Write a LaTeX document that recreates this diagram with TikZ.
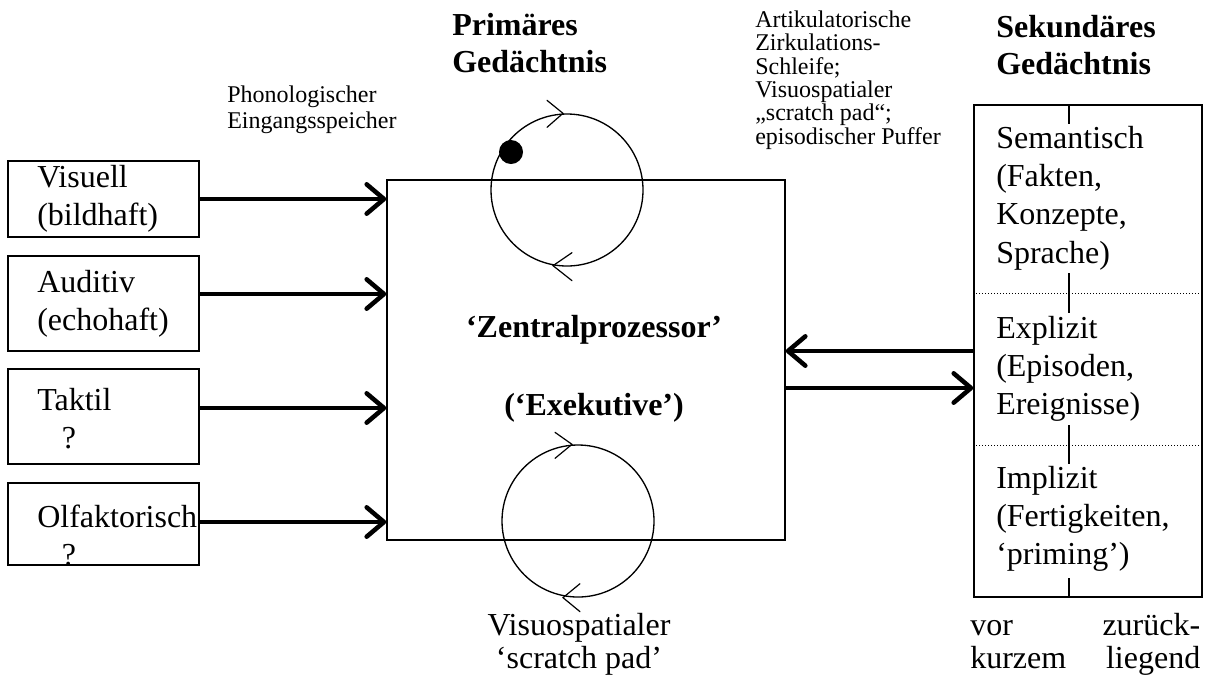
\documentclass[tikz,border=0pt]{standalone}
\usepackage{fontspec}
\setmainfont{Liberation Serif}
\usetikzlibrary{arrows.meta,fit,calc}

% stacked lines whose baseline is the first line's baseline
\newcommand\lns[2][l]{\begin{tabular}[t]{@{}#1@{}}#2\end{tabular}}

\tikzset{
  frame/.style={draw, line width=1.1pt, inner sep=0pt},
  big/.style={font=\fontsize{24}{28.8}\selectfont},
  bigbold/.style={font=\fontsize{24}{28}\selectfont\bfseries},
  small/.style={font=\fontsize{18}{16.9}\selectfont},
  foot/.style={font=\fontsize{24}{24.75}\selectfont},
  txt/.style={inner sep=0pt, anchor=base west},
  flow/.style={line width=3.4pt,
    -{Straight Barb[length=13pt,width=22pt,line cap=round,line join=round]}},
  loopline/.style={line width=1pt},
  chev/.style={line width=0.9pt, line cap=round},
  sep/.style={line width=0.75pt, dash pattern=on 0.75pt off 1.5pt},
  tick/.style={line width=0.8pt},
}

\begin{document}
\begin{tikzpicture}[x=0.75pt, y=-0.75pt]
\useasboundingbox (0,0) rectangle (1209,676);

% sensory stores
\node[frame, fit={(8,161) (199,237)}] (vis) {};
\node[frame, fit={(8,256) (199,351)}] (aud) {};
\node[frame, fit={(8,369) (199,464)}] (tak) {};
\node[frame, fit={(8,483) (199,565)}] (olf) {};

\node[txt,big] (tvis) at (37,187) {\lns{Visuell\\(bildhaft)}};
\node[txt,big] (taud) at (37,292) {\lns{Auditiv\\(echohaft)}};
\node[txt,big] (ttak) at (37,410) {\lns{Taktil\\\hspace*{18.5pt}?}};
\node[txt,big] (tolf) at (37,527) {\lns{Olfaktorisch\\\hspace*{18.5pt}?}};

% central processor
\node[frame, fit={(387,180) (785,540)}] (zp) {};
\node[bigbold, inner sep=0pt, anchor=base] (zp1) at (594,337) {‘Zentralprozessor’};
\node[bigbold, inner sep=0pt, anchor=base] (zp2) at (594,415) {(‘Exekutive’)};

% inputs into the central processor
\draw[flow] (vis.east |- 0,199) -- (zp.west |- 0,199);
\draw[flow] (aud.east |- 0,294) -- (zp.west |- 0,294);
\draw[flow] (tak.east |- 0,408) -- (zp.west |- 0,408);
\draw[flow] (olf.east |- 0,522) -- (zp.west |- 0,522);

% rehearsal loops
\node[circle, draw, loopline, minimum size=114pt, inner sep=0pt] (c1) at (567,190) {};
\node[circle, fill, minimum size=18pt, inner sep=0pt] (dot) at (511,152) {};
\draw[chev] ($(c1.north)+(-20,-13)$) -- ($(c1.north)+(-4,0)$) -- ($(c1.north)+(-20,14)$);
\draw[chev] ($(c1.south)+(5,-14)$) -- ($(c1.south)+(-14,-1)$) -- ($(c1.south)+(5,14)$);

\node[circle, draw, loopline, minimum size=114pt, inner sep=0pt] (c2) at (578,521) {};
\draw[chev] ($(c2.north)+(-23,-12)$) -- ($(c2.north)+(-6,0)$) -- ($(c2.north)+(-23,14)$);
\draw[chev] ($(c2.south)+(2,-14)$) -- ($(c2.south)+(-15,0)$) -- ($(c2.south)+(2,14)$);

% headings and labels
\node[txt,bigbold] (hprim) at (452,35) {\lns{Primäres\\Gedächtnis}};
\node[txt,bigbold] (hsek) at (996,37) {\lns{Sekundäres\\Gedächtnis}};
\node[txt,font=\fontsize{18}{19.5}\selectfont] (lphon) at (227,102) {\lns{Phonologischer\\Eingangsspeicher}};
\node[txt,small] (lart) at (755,27) {\lns{Artikulatorische\\Zirkulations-\\Schleife;\\Visuospatialer\\„scratch pad“;\\episodischer Puffer}};
\node[inner sep=0pt, anchor=base, foot] (lvis) at (579,635) {\lns[c]{Visuospatialer\\‘scratch pad’}};

% secondary memory
\node[frame, fit={(974,105) (1202,597)}] (sek) {};
\draw[sep] (sek.west |- 0,293) -- (sek.east |- 0,293);
\draw[sep] (sek.west |- 0,445) -- (sek.east |- 0,445);
\draw[tick] (1069,105) -- (1069,124);
\draw[tick] (1069,273) -- (1069,313);
\draw[tick] (1069,425) -- (1069,464);
\draw[tick] (1069,578) -- (1069,597);

\node[txt,big] (tsem) at (996,148) {\lns{Semantisch\\(Fakten,\\Konzepte,\\Sprache)}};
\node[txt,big] (texp) at (996,338) {\lns{Explizit\\(Episoden,\\Ereignisse)}};
\node[txt,big] (timp) at (996,488) {\lns{Implizit\\(Fertigkeiten,\\‘priming’)}};

\node[txt, foot] (ltime) at (970,635)
  {\lns{\makebox[172.5pt][s]{vor\hfill zurück-}\\\makebox[172.5pt][s]{kurzem\hfill liegend}}};

% exchange with secondary memory
\draw[flow] (sek.west |- 0,351) -- (zp.east |- 0,351);
\draw[flow] (zp.east |- 0,388) -- (sek.west |- 0,388);
\end{tikzpicture}
\end{document}
